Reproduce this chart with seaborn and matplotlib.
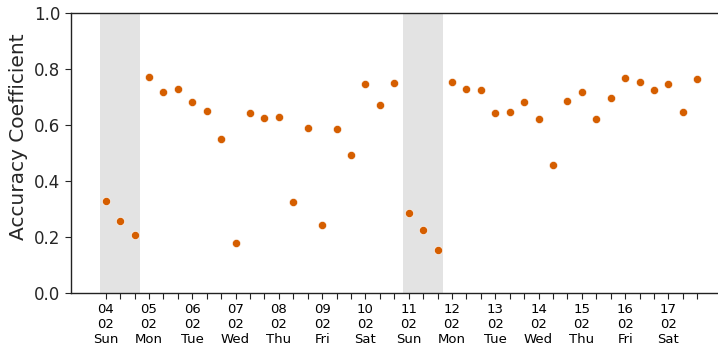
import pandas as pd
import matplotlib
matplotlib.use('Agg')
import matplotlib.pyplot as plt
import seaborn as sns

# day labels (one per day, 3 samples per day at 8 h spacing)
days = ['04', '05', '06', '07', '08', '09', '10', '11', '12', '13', '14', '15', '16', '17']
months = ['02'] * 14
weekdays = ['Sun', 'Mon', 'Tue', 'Wed', 'Thu', 'Fri', 'Sat',
            'Sun', 'Mon', 'Tue', 'Wed', 'Thu', 'Fri', 'Sat']
weekend_days = ['04', '11']

accuracy = [0.330, 0.257, 0.207, 0.770, 0.717, 0.729, 0.681, 0.649, 0.549,
            0.179, 0.642, 0.624, 0.627, 0.324, 0.588, 0.243, 0.586, 0.493,
            0.746, 0.671, 0.750, 0.286, 0.226, 0.154, 0.752, 0.729, 0.726,
            0.642, 0.645, 0.682, 0.621, 0.458, 0.686, 0.718, 0.621, 0.695,
            0.768, 0.752, 0.726, 0.746, 0.646, 0.763]

df = pd.DataFrame({'slot': range(len(accuracy)), 'Accuracy': accuracy})

sns.set_style('ticks')
plt.rcParams['font.family'] = ['DejaVu Sans']

fig = plt.figure(figsize=(7.18, 3.47), dpi=100)
ax = fig.add_axes([0.0989, 0.1556, 0.9011, 0.8069])

# shade the Sundays
for d in weekend_days:
    i = days.index(d) * 3
    ax.axvspan(i - 0.4, i + 2.4, color='#e3e3e3', lw=0, zorder=0)

sns.scatterplot(data=df, x='slot', y='Accuracy', color='#d55e00', s=34,
                edgecolor='white', linewidth=0.4, ax=ax, zorder=3)

ticks = list(range(len(accuracy)))
labels = []
for t in ticks:
    if t % 3 == 0:
        k = t // 3
        labels.append(f'{days[k]}\n{months[k]}\n{weekdays[k]}')
    else:
        labels.append('')
ax.set_xticks(ticks)
ax.set_xticklabels(labels, fontsize=9.5)
ax.tick_params(axis='x', length=4, width=0.8, colors='#222222', labelcolor='black')
ax.tick_params(axis='y', labelsize=12, length=4, width=0.8)

ax.set_xlim(-2.4, 42.43)
ax.set_ylim(0, 1.0)
ax.set_yticks([0.0, 0.2, 0.4, 0.6, 0.8, 1.0])
ax.set_xlabel('')
ax.set_ylabel('Accuracy Coefficient', fontsize=14.5)
ax.yaxis.set_label_coords(-0.066, 0.56)

for s in ['left', 'bottom', 'top']:
    ax.spines[s].set_color('#222222')
    ax.spines[s].set_linewidth(1.0)
ax.spines['right'].set_visible(False)

fig.savefig('out.png', dpi=100)
